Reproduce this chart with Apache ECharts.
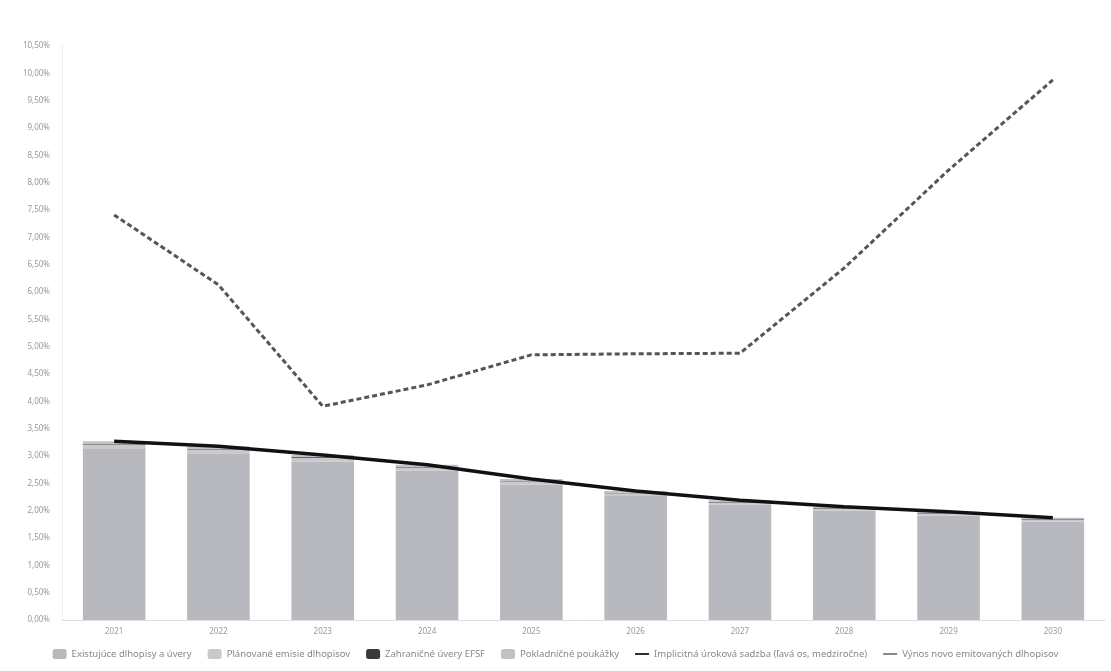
<!DOCTYPE html>
<html><head><meta charset="utf-8">
<script src="https://cdn.jsdelivr.net/npm/echarts@6/dist/echarts.min.js"></script>
<style>html,body{margin:0;padding:0;background:#fff}#c{width:1111px;height:671px}</style>
</head><body><div id="c"></div>
<script>
const years = ['2021','2022','2023','2024','2025','2026','2027','2028','2029','2030'];
const existingDebt = [3.13, 3.05, 2.90, 2.73, 2.48, 2.27, 2.11, 2.00, 1.91, 1.80];
const plannedBonds = [0.08, 0.07, 0.07, 0.06, 0.05, 0.05, 0.04, 0.04, 0.04, 0.04];
const loansEFSF = [0.01, 0.01, 0.01, 0.01, 0.01, 0.01, 0.01, 0.01, 0.01, 0.01];
const treasuryBills = [0.05, 0.05, 0.04, 0.04, 0.04, 0.03, 0.03, 0.02, 0.02, 0.02];
const implicitRate = [3.27, 3.18, 3.02, 2.84, 2.58, 2.36, 2.19, 2.07, 1.98, 1.87];
const newBondYield = [7.41, 6.13, 3.91, 4.30, 4.85, 4.87, 4.88, 6.44, 8.23, 9.88];
const legendNames = [
  'Existujúce dlhopisy a úvery',
  'Plánované emisie dlhopisov',
  'Zahraničné úvery EFSF',
  'Pokladničné poukážky',
  'Implicitná úroková sadzba (ľavá os, medziročne)',
  'Výnos novo emitovaných dlhopisov'
];

const chart = echarts.init(document.getElementById('c'));
const barBase = {type:'bar', stack:'d', barWidth:'60%'};
const lineIcon = 'path://M0,0H16V2H0Z';
chart.setOption({
  animation:false,
  textStyle:{fontFamily:'Noto Sans'},
  grid:{left:62, right:6, top:46, bottom:51},
  legend:{
    bottom:7, left:'center', itemWidth:14, itemHeight:10, itemGap:16,
    textStyle:{fontSize:9.5, color:'#888'},
    data:[
      {name:legendNames[0]},{name:legendNames[1]},{name:legendNames[2]},{name:legendNames[3]},
      {name:legendNames[4], icon:lineIcon, itemStyle:{color:'#111'}},
      {name:legendNames[5], icon:lineIcon, itemStyle:{color:'#777'}}
    ]
  },
  xAxis:{
    type:'category', data:years,
    axisLine:{lineStyle:{color:'#ddd'}}, axisTick:{show:false},
    axisLabel:{fontSize:8, color:'#999', margin:8}
  },
  yAxis:{
    type:'value', min:0, max:10.5, interval:0.5,
    axisLine:{show:true, lineStyle:{color:'#eee'}}, axisTick:{show:false},
    splitLine:{show:false},
    axisLabel:{fontSize:8, color:'#999', margin:12,
      formatter:v=>v.toFixed(2).replace('.',',')+'%'}
  },
  series:[
    Object.assign({name:legendNames[0], data:existingDebt, itemStyle:{color:'#b8b8bf'}}, barBase),
    Object.assign({name:legendNames[1], data:plannedBonds, itemStyle:{color:'#c9c9cd'}}, barBase),
    Object.assign({name:legendNames[2], data:loansEFSF, itemStyle:{color:'#3a3a3a'}}, barBase),
    Object.assign({name:legendNames[3], data:treasuryBills, itemStyle:{color:'#c2c2c6'}}, barBase),
    {name:legendNames[4], type:'line', data:implicitRate, symbol:'none',
     lineStyle:{color:'#111', width:3.5}, itemStyle:{color:'#111'}, z:5},
    {name:legendNames[5], type:'line', data:newBondYield, symbol:'none',
     lineStyle:{color:'#555', width:3, type:[5,3]}, itemStyle:{color:'#555'}, z:5}
  ]
});
</script></body></html>
